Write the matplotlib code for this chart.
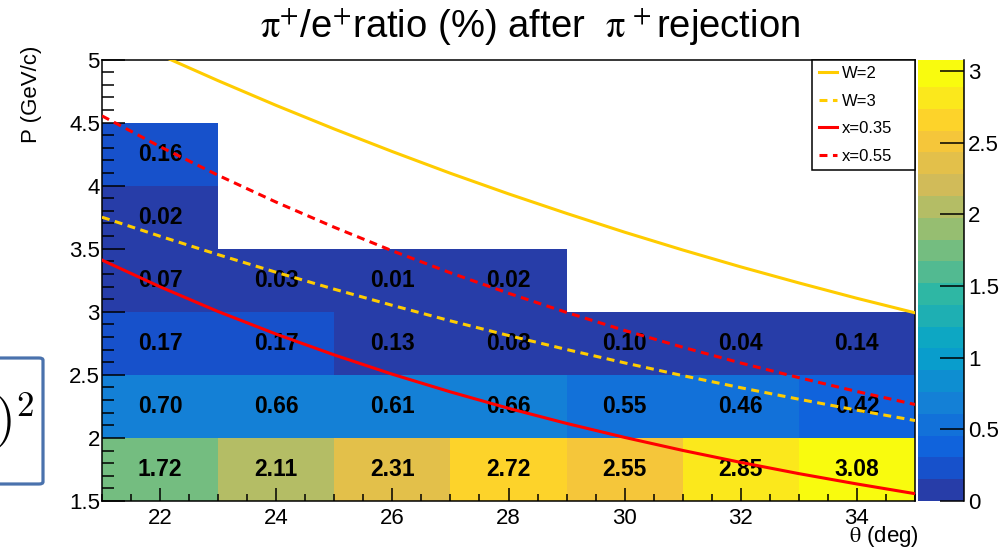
import numpy as np
import matplotlib
matplotlib.use("Agg")
import matplotlib.pyplot as plt
from matplotlib.colors import LinearSegmentedColormap, ListedColormap, BoundaryNorm
from matplotlib.patches import FancyBboxPatch

plt.rcParams['font.family'] = ['Liberation Sans', 'DejaVu Sans']
plt.rcParams['mathtext.fontset'] = 'stix'

# ---- binned pi+/e+ ratio (%) ----
theta_edges = [21, 23, 25, 27, 29, 31, 33, 35]
p_edges = [1.5, 2.0, 2.5, 3.0, 3.5, 4.0, 4.5, 5.0]
# rows go from the lowest momentum bin upwards; 0 means empty bin
ratio_rows = [
    [1.72, 2.11, 2.31, 2.72, 2.55, 2.85, 3.08],
    [0.70, 0.66, 0.61, 0.66, 0.55, 0.46, 0.42],
    [0.17, 0.17, 0.13, 0.08, 0.10, 0.04, 0.14],
    [0.07, 0.03, 0.01, 0.02, 0.00, 0.00, 0.00],
    [0.02, 0.00, 0.00, 0.00, 0.00, 0.00, 0.00],
    [0.16, 0.00, 0.00, 0.00, 0.00, 0.00, 0.00],
    [0.00, 0.00, 0.00, 0.00, 0.00, 0.00, 0.00],
]

# ---- kinematic boundary curves ----
theta_curve = [21, 22, 23, 24, 25, 26, 27, 28, 29, 30, 31, 32, 33, 34, 35]
p_w2 = [5.249, 5.036, 4.832, 4.636, 4.449, 4.270, 4.098, 3.935, 3.780,
        3.631, 3.490, 3.356, 3.229, 3.107, 2.992]
p_w3 = [3.750, 3.599, 3.453, 3.313, 3.179, 3.051, 2.928, 2.812, 2.701,
        2.595, 2.494, 2.398, 2.307, 2.220, 2.138]
p_x035 = [3.410, 3.198, 3.002, 2.823, 2.658, 2.505, 2.365, 2.235, 2.115,
          2.004, 1.901, 1.806, 1.717, 1.635, 1.558]
p_x055 = [4.553, 4.309, 4.082, 3.869, 3.670, 3.483, 3.309, 3.147, 2.995,
          2.852, 2.719, 2.594, 2.478, 2.368, 2.265]

cbar_ticks = [0, 0.5, 1, 1.5, 2, 2.5, 3]
z_top = 3.08          # upper end of the palette axis
level_step = 0.152    # width of one colour level

# ---- "bird" palette split into 20 contour levels ----
stops = [0.0, 0.125, 0.25, 0.375, 0.5, 0.625, 0.75, 0.875, 1.0]
red = [0.2082, 0.0592, 0.0780, 0.0232, 0.1802, 0.5301, 0.8186, 0.9956, 0.9764]
green = [0.1664, 0.3599, 0.5041, 0.6419, 0.7178, 0.7492, 0.7328, 0.7862, 0.9832]
blue = [0.5293, 0.8684, 0.8385, 0.7914, 0.6425, 0.4662, 0.3499, 0.1968, 0.0539]
bird = LinearSegmentedColormap.from_list(
    "bird", [(s, (r, g, b)) for s, r, g, b in zip(stops, red, green, blue)], N=255)
n_levels = 20
level_colors = [bird(int((i + 0.99) * 255 / n_levels) / 254.0) for i in range(n_levels)]
cmap = ListedColormap(level_colors)
bounds = [i * level_step for i in range(n_levels)] + [z_top]
norm = BoundaryNorm(bounds, n_levels)

z = np.array(ratio_rows)

W, H = 1007, 547
fig = plt.figure(figsize=(W / 100, H / 100), dpi=100)
ax = fig.add_axes([102 / W, 1 - 501 / H, (915 - 102) / W, (501 - 59.5) / H])
cax = fig.add_axes([918 / W, 1 - 501 / H, (964 - 918) / W, (501 - 59.5) / H])

zm = np.ma.masked_where(z <= 0, z)
mesh = ax.pcolormesh(theta_edges, p_edges, zm, cmap=cmap, norm=norm,
                     edgecolors='none', zorder=1)

# bin contents as text
tc = [(theta_edges[i] + theta_edges[i + 1]) / 2 for i in range(len(theta_edges) - 1)]
pc = [(p_edges[j] + p_edges[j + 1]) / 2 for j in range(len(p_edges) - 1)]
for j, row in enumerate(ratio_rows):
    for i, v in enumerate(row):
        if v > 0:
            ax.text(tc[i], pc[j], f"{v:.2f}", ha='center', va='center',
                    fontsize=16.5, fontweight='bold', color='black', zorder=3)

yellow = '#ffcc00'
lw = 2.2
ax.plot(theta_curve, p_w2, color=yellow, lw=lw, zorder=4, label='W=2')
ax.plot(theta_curve, p_w3, color=yellow, lw=lw, dashes=(2.6, 1.8), zorder=4, label='W=3')
ax.plot(theta_curve, p_x035, color='red', lw=lw, zorder=4, label='x=0.35')
ax.plot(theta_curve, p_x055, color='red', lw=lw, dashes=(2.6, 1.8), zorder=4, label='x=0.55')

ax.set_xlim(21, 35)
ax.set_ylim(1.5, 5)
ax.set_xticks([22, 24, 26, 28, 30, 32, 34])
ax.set_xticks(np.arange(21, 35.01, 0.5), minor=True)
ax.set_yticks([1.5, 2, 2.5, 3, 3.5, 4, 4.5, 5])
ax.set_yticklabels(['1.5', '2', '2.5', '3', '3.5', '4', '4.5', '5'])
ax.set_yticks(np.arange(1.5, 5.001, 0.1), minor=True)
ax.tick_params(axis='x', which='major', direction='in', length=9.4, width=1.1,
               labelsize=16, pad=5, top=False)
ax.tick_params(axis='x', which='minor', direction='in', length=5, width=1.1, top=False)
ax.tick_params(axis='y', which='major', direction='in', length=16.5, width=1.1,
               labelsize=16, pad=1.5, right=False)
ax.tick_params(axis='y', which='minor', direction='in', length=8.6, width=1.1, right=False)
for s in ax.spines.values():
    s.set_linewidth(1.1)

leg_x0 = (812 - 102) / (915 - 102)
leg = ax.legend(loc='upper left', bbox_to_anchor=(leg_x0, 1.0, 1.0 - leg_x0, 0.0),
                mode='expand', borderaxespad=0,
                fontsize=12, handlelength=1.1, handletextpad=0.3,
                labelspacing=0.75, borderpad=0.4, fancybox=False,
                framealpha=1, edgecolor='black')
leg.get_frame().set_linewidth(1.1)

cb = fig.colorbar(mesh, cax=cax, ticks=cbar_ticks, spacing='proportional')
cb.outline.set_visible(False)
cax.minorticks_off()
cax.tick_params(which='major', direction='in', length=17, width=1.1,
                right=True, left=False, labelright=True, labelleft=False,
                labelsize=16, pad=3)
cax.set_yticklabels(['0', '0.5', '1', '1.5', '2', '2.5', '3'])
cax.plot([1, 1], [0, 1], transform=cax.transAxes, color='black', lw=1.1, clip_on=False)

fig.text(530 / W, 1 - 37 / H,
         r"$\mathrm{\pi}^{+}$/e$^{+}$ratio (%) after  $\mathrm{\pi}^{\,+}$rejection",
         ha='center', va='baseline', fontsize=27.5)
fig.text(32 / W, 1 - 46 / H, "P (GeV/c)", rotation=90, ha='center', va='top', fontsize=16)
fig.text(919 / W, 1 - 542 / H, r"$\mathrm{\theta}$ (deg)", ha='right', va='baseline',
         fontsize=16)

# partially visible equation box on the left edge
box = FancyBboxPatch((-30 / W, 1 - 484 / H), (73) / W, (484 - 358) / H,
                     boxstyle="round,pad=0,rounding_size=0.004",
                     transform=fig.transFigure, facecolor='none',
                     edgecolor='#4a72ad', linewidth=2.3, clip_on=False)
fig.patches.append(box)
fig.text(34 / W, 1 - 436 / H, r"$)^{2}$", ha='right', va='baseline',
         fontsize=36, math_fontfamily='cm')

fig.savefig("out.png", dpi=100)
